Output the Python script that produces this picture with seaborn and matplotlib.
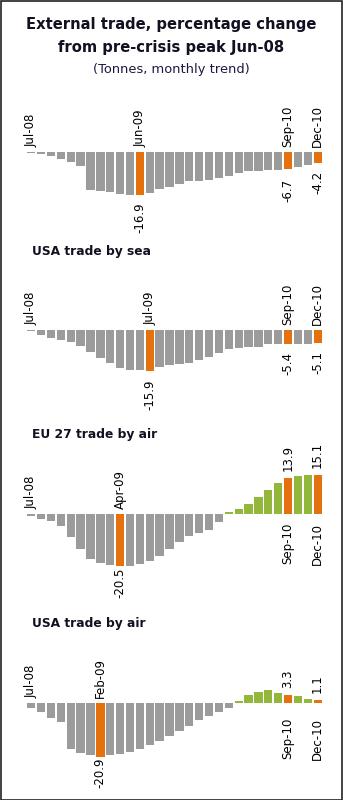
import matplotlib
matplotlib.use("Agg")
import matplotlib.pyplot as plt
import seaborn as sns
import pandas as pd
from matplotlib.patches import Rectangle

# ---------------- data ----------------
months = ["Jul-08", "Aug-08", "Sep-08", "Oct-08", "Nov-08", "Dec-08",
          "Jan-09", "Feb-09", "Mar-09", "Apr-09", "May-09", "Jun-09",
          "Jul-09", "Aug-09", "Sep-09", "Oct-09", "Nov-09", "Dec-09",
          "Jan-10", "Feb-10", "Mar-10", "Apr-10", "May-10", "Jun-10",
          "Jul-10", "Aug-10", "Sep-10", "Oct-10", "Nov-10", "Dec-10"]

eu_sea = [-0.3, -0.6, -1.7, -2.8, -4.1, -5.4, -14.7, -15.1, -15.6, -16.3,
          -16.7, -16.9, -16.0, -14.5, -13.6, -12.6, -11.5, -11.2, -10.9, -10.3,
          -9.2, -8.3, -7.4, -7.4, -7.1, -7.1, -6.7, -5.9, -4.9, -4.2]

usa_sea = [-0.4, -1.8, -3.0, -3.8, -4.8, -6.3, -8.7, -11.1, -12.8, -14.7,
           -15.5, -15.8, -15.9, -14.3, -13.7, -13.4, -13.0, -11.7, -10.4, -9.1,
           -7.4, -6.9, -6.5, -6.5, -5.6, -5.5, -5.4, -5.6, -5.6, -5.1]

eu_air = [-0.8, -2.0, -2.9, -4.6, -8.8, -13.8, -17.4, -19.3, -20.0, -20.5,
          -20.3, -19.5, -18.2, -16.3, -13.8, -10.8, -8.6, -7.3, -6.2, -3.2,
          0.6, 2.1, 4.0, 6.8, 9.2, 12.3, 13.9, 15.0, 15.4, 15.1]

usa_air = [-2.0, -3.5, -5.8, -7.6, -18.0, -19.5, -20.3, -20.9, -20.4, -20.0,
           -19.2, -18.0, -16.5, -15.0, -13.0, -11.0, -8.9, -6.8, -5.2, -3.7,
           -2.0, 0.9, 3.1, 4.4, 4.9, 4.0, 3.3, 2.6, 1.7, 1.1]

panel_titles = ["", "USA trade by sea", "EU 27 trade by air", "USA trade by air"]
highlights = [["Jun-09", "Sep-10", "Dec-10"],
              ["Jul-09", "Sep-10", "Dec-10"],
              ["Apr-09", "Sep-10", "Dec-10"],
              ["Feb-09", "Sep-10", "Dec-10"]]
series = [eu_sea, usa_sea, eu_air, usa_air]

title_lines = ["External trade, percentage change", "from pre-crisis peak Jun-08"]
subtitle = "(Tonnes, monthly trend)"

# ---------------- style / layout ----------------
GRAY = "#9b9b9b"
ORANGE = "#e4700e"
GREEN = "#92b73a"
W, H = 343, 800
PPU = 2.56                      # pixels per percentage point
zero_px = [152, 330, 514, 703]
title_px = [None, 252, 435, 624]
x_left, x_right = 26.3, 322.6
YLO, YHI = -26, 20
neg_gap = [[7, 10, 8], [9, 8, 8], [1, 8, 8], [1, 8, 8]]
month_below_gap = [8, 8, 9, 15]
FS = 8.5

sns.set_theme(style="white")
plt.rcParams["font.family"] = ["DejaVu Sans"]

fig = plt.figure(figsize=(W / 100, H / 100), dpi=100)
fig.patch.set_facecolor("white")


def fx(px):
    return px / W


def fy(py):
    return 1 - py / H


fig.text(0.5, fy(25), title_lines[0], ha="center", va="center",
         fontsize=10.6, fontweight="bold", color="#111122")
fig.text(0.5, fy(47.5), title_lines[1], ha="center", va="center",
         fontsize=10.6, fontweight="bold", color="#111122")
fig.text(0.5, fy(69), subtitle, ha="center", va="center",
         fontsize=9.4, color="#1a1a40")

for p, vals in enumerate(series):
    z = zero_px[p]
    top = z - YHI * PPU
    bot = z - YLO * PPU
    ax = fig.add_axes([fx(x_left), fy(bot), fx(x_right - x_left), (bot - top) / H])
    ax.set_facecolor("none")
    colors = {}
    for m, v in zip(months, vals):
        if m in highlights[p]:
            colors[m] = ORANGE
        elif v > 0:
            colors[m] = GREEN
        else:
            colors[m] = GRAY
    df = pd.DataFrame({"month": months, "v": vals})
    sns.barplot(data=df, x="month", y="v", hue="month", palette=colors,
                order=months, hue_order=months, width=0.84, dodge=False,
                legend=False, ax=ax, saturation=1, edgecolor="none")
    ax.set_xlim(-0.5, len(vals) - 0.5)
    ax.set_ylim(YLO, YHI)
    ax.axis("off")

    ax.annotate(months[0], xy=(0, 0), xytext=(0, 5), textcoords="offset pixels",
                rotation=90, ha="center", va="bottom", fontsize=FS, color="black")
    for k, m in enumerate(highlights[p]):
        h = months.index(m)
        v = vals[h]
        lab = f"{v:.1f}"
        if v < 0:
            ax.annotate(m, xy=(h, 0), xytext=(0, 5), textcoords="offset pixels",
                        rotation=90, ha="center", va="bottom", fontsize=FS, color="black")
            ax.annotate(lab, xy=(h, v), xytext=(0, -neg_gap[p][k]), textcoords="offset pixels",
                        rotation=90, ha="center", va="top", fontsize=FS, color="black")
        else:
            ax.annotate(lab, xy=(h, v), xytext=(0, 7), textcoords="offset pixels",
                        rotation=90, ha="center", va="bottom", fontsize=FS, color="black")
            ax.annotate(m, xy=(h, 0), xytext=(0, -month_below_gap[p]),
                        textcoords="offset pixels",
                        rotation=90, ha="center", va="top", fontsize=FS, color="black")

    if panel_titles[p]:
        fig.text(fx(32), fy(title_px[p]), panel_titles[p], ha="left", va="center",
                 fontsize=8.8, fontweight="bold", color="#111122")

fig.patches.append(Rectangle((0.5 / W, 0.5 / H), 1 - 1.5 / W, 1 - 1.5 / H,
                             transform=fig.transFigure, fill=False,
                             edgecolor="#222222", linewidth=1.2))

fig.savefig("out.png", dpi=100, facecolor="white")
